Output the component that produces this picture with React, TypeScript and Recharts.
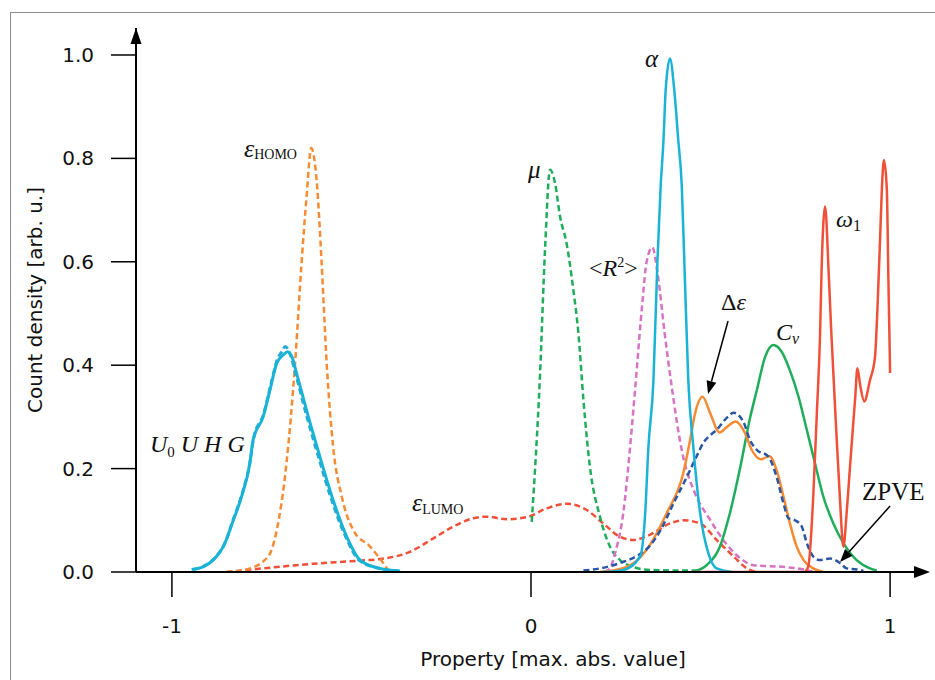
import React from "react";
import {
  ComposedChart,
  Line,
  XAxis,
  YAxis,
  ReferenceDot,
  ReferenceLine,
  Label,
} from "recharts";

type Pt = [number, number];

const X_MIN = -1.1;
const X_MAX = 1.1;
const Y_MAX = 1.0522;

const xTicks = [-1, 0, 1];
const yTicks = [0, 0.2, 0.4, 0.6, 0.8, 1.0];

// U0 U H G (solid + dashed, nearly identical)
const uhgSolid: Pt[] = [
  [-0.945, 0.005], [-0.913, 0.01], [-0.876, 0.03], [-0.857, 0.049], [-0.829, 0.1],
  [-0.806, 0.146], [-0.783, 0.21], [-0.774, 0.255], [-0.746, 0.3], [-0.727, 0.352],
  [-0.708, 0.404], [-0.69, 0.42], [-0.678, 0.426], [-0.665, 0.415], [-0.655, 0.39],
  [-0.62, 0.3], [-0.588, 0.223], [-0.551, 0.139], [-0.513, 0.068], [-0.476, 0.023],
  [-0.421, 0.007], [-0.365, 0.002],
];
const uhgDashed: Pt[] = [
  [-0.94, 0.005], [-0.91, 0.012], [-0.874, 0.032], [-0.855, 0.052], [-0.828, 0.104],
  [-0.805, 0.15], [-0.782, 0.215], [-0.772, 0.26], [-0.745, 0.305], [-0.726, 0.358],
  [-0.707, 0.41], [-0.692, 0.428], [-0.685, 0.436], [-0.67, 0.42], [-0.658, 0.39],
  [-0.624, 0.3], [-0.592, 0.223], [-0.555, 0.139], [-0.516, 0.068], [-0.479, 0.023],
  [-0.424, 0.007], [-0.37, 0.002],
];
const homo: Pt[] = [
  [-0.848, 0], [-0.792, 0.005], [-0.732, 0.03], [-0.708, 0.081], [-0.681, 0.21],
  [-0.657, 0.404], [-0.639, 0.597], [-0.625, 0.726], [-0.612, 0.82], [-0.597, 0.758],
  [-0.583, 0.597], [-0.569, 0.404], [-0.551, 0.242], [-0.527, 0.146], [-0.495, 0.081],
  [-0.448, 0.049], [-0.421, 0.026], [-0.397, 0.003],
];
const lumo: Pt[] = [
  [-0.848, 0], [-0.746, 0.007], [-0.606, 0.016], [-0.476, 0.022], [-0.421, 0.025],
  [-0.337, 0.039], [-0.272, 0.065], [-0.216, 0.088], [-0.161, 0.104], [-0.123, 0.107],
  [-0.068, 0.102], [-0.012, 0.106], [0.044, 0.123], [0.099, 0.132], [0.155, 0.12],
  [0.201, 0.094], [0.248, 0.068], [0.285, 0.062], [0.331, 0.072], [0.387, 0.094],
  [0.424, 0.1], [0.471, 0.094], [0.517, 0.062], [0.564, 0.03], [0.601, 0.007], [0.629, 0],
];
const mu: Pt[] = [
  [0.002, 0.097], [0.025, 0.38], [0.039, 0.623], [0.053, 0.778], [0.067, 0.752],
  [0.081, 0.687], [0.099, 0.636], [0.118, 0.545], [0.132, 0.462], [0.146, 0.333],
  [0.164, 0.204], [0.192, 0.107], [0.22, 0.049], [0.248, 0.023], [0.284, 0.01],
  [0.33, 0.004], [0.4, 0.003], [0.47, 0.003],
];
const r2: Pt[] = [
  [0.205, 0], [0.22, 0.007], [0.234, 0.036], [0.257, 0.114], [0.276, 0.242],
  [0.292, 0.371], [0.31, 0.52], [0.322, 0.6], [0.338, 0.628], [0.352, 0.58],
  [0.372, 0.463], [0.391, 0.363], [0.42, 0.235], [0.458, 0.15], [0.495, 0.105],
  [0.543, 0.055], [0.58, 0.028], [0.62, 0.013], [0.7, 0.01], [0.76, 0.005], [0.79, 0],
];
const alpha: Pt[] = [
  [0.2, 0], [0.257, 0.004], [0.304, 0.03], [0.318, 0.114], [0.327, 0.242],
  [0.341, 0.371], [0.352, 0.6], [0.361, 0.745], [0.369, 0.836], [0.375, 0.932],
  [0.387, 0.993], [0.399, 0.932], [0.41, 0.836], [0.42, 0.745], [0.427, 0.6],
  [0.438, 0.371], [0.452, 0.242], [0.471, 0.114], [0.494, 0.036], [0.517, 0.007], [0.56, 0],
];
const deltaEps: Pt[] = [
  [0.192, 0], [0.267, 0.01], [0.322, 0.043], [0.378, 0.114], [0.424, 0.191],
  [0.443, 0.255], [0.457, 0.307], [0.478, 0.339], [0.499, 0.307], [0.525, 0.27],
  [0.548, 0.282], [0.57, 0.291], [0.595, 0.27], [0.615, 0.236], [0.64, 0.218],
  [0.664, 0.224], [0.684, 0.197], [0.703, 0.146], [0.721, 0.094], [0.74, 0.049],
  [0.759, 0.023], [0.786, 0.007], [0.814, 0],
];
const zpve: Pt[] = [
  [0.146, 0.003], [0.2, 0.008], [0.25, 0.018], [0.3, 0.033], [0.33, 0.05],
  [0.36, 0.08], [0.397, 0.133], [0.434, 0.184], [0.46, 0.222], [0.48, 0.25],
  [0.5, 0.265], [0.517, 0.275], [0.545, 0.298], [0.564, 0.308], [0.591, 0.291],
  [0.61, 0.255], [0.629, 0.236], [0.66, 0.224], [0.684, 0.184], [0.703, 0.133],
  [0.717, 0.104], [0.735, 0.1], [0.754, 0.088], [0.768, 0.056], [0.786, 0.03],
  [0.805, 0.023], [0.833, 0.026], [0.861, 0.017], [0.879, 0.007], [0.907, 0.005], [0.926, 0.002],
];
const cv: Pt[] = [
  [0.452, 0], [0.489, 0.013], [0.526, 0.049], [0.554, 0.114], [0.582, 0.2],
  [0.61, 0.298], [0.629, 0.352], [0.652, 0.416], [0.675, 0.439], [0.698, 0.426],
  [0.721, 0.39], [0.745, 0.339], [0.768, 0.275], [0.791, 0.21], [0.814, 0.146],
  [0.842, 0.094], [0.87, 0.056], [0.907, 0.023], [0.944, 0.007], [0.963, 0.003],
];
const omega: Pt[] = [
  [0.45, 0], [0.76, 0], [0.772, 0.01], [0.786, 0.146], [0.796, 0.307], [0.805, 0.46],
  [0.809, 0.578], [0.819, 0.707], [0.829, 0.578], [0.836, 0.468], [0.85, 0.275],
  [0.86, 0.146], [0.87, 0.049], [0.879, 0.114], [0.889, 0.21], [0.903, 0.339],
  [0.909, 0.394], [0.917, 0.36], [0.928, 0.33], [0.944, 0.371], [0.958, 0.416],
  [0.965, 0.513], [0.972, 0.642], [0.977, 0.739], [0.983, 0.797], [0.991, 0.739],
  [0.995, 0.578], [1.0, 0.385],
];

const CYAN = "#19b3d7";
const ORANGE = "#f68b33";
const RED = "#ef5037";
const GREEN = "#1fad5b";
const MAGENTA = "#d673c3";
const BLUE = "#2a56a6";

const series = [
  { key: "lumo", pts: lumo, color: RED, dash: true, w: 2.5 },
  { key: "homo", pts: homo, color: ORANGE, dash: true, w: 2.5 },
  { key: "uhgDashed", pts: uhgDashed, color: "#2aa9d2", dash: true, w: 3 },
  { key: "uhgSolid", pts: uhgSolid, color: CYAN, dash: false, w: 3 },
  { key: "mu", pts: mu, color: GREEN, dash: true, w: 2.5 },
  { key: "r2", pts: r2, color: MAGENTA, dash: true, w: 2.5 },
  { key: "cv", pts: cv, color: GREEN, dash: false, w: 2.5 },
  { key: "deltaEps", pts: deltaEps, color: ORANGE, dash: false, w: 2.5 },
  { key: "zpve", pts: zpve, color: BLUE, dash: true, w: 2.5 },
  { key: "alpha", pts: alpha, color: CYAN, dash: false, w: 2.5 },
  { key: "omega", pts: omega, color: RED, dash: false, w: 2.5 },
];

const SERIF = "'Liberation Serif', 'Times New Roman', serif";
const SANS = "'DejaVu Sans', sans-serif";

// annotation anchor points (data coords, text starts here on its baseline)
const labelPos: Record<string, Pt> = {
  homo: [-0.7994, 0.8027],
  mu: [-0.0084, 0.762],
  alpha: [0.3175, 0.977],
  r2: [0.1616, 0.5725],
  deltaEps: [0.529, 0.5068],
  cv: [0.6825, 0.4487],
  omega: [0.8496, 0.6673],
  zpve: [0.922, 0.139],
  uhg: [-1.0613, 0.2321],
  lumo: [-0.3315, 0.118],
};

const arrowDelta: [Pt, Pt] = [[0.5487, 0.4855], [0.493, 0.3443]];
const arrowZpve: [Pt, Pt] = [[1.0, 0.1277], [0.8607, 0.0193]];

const labelContent: Record<string, React.ReactNode> = {
  homo: (
    <>
      <tspan fontStyle="italic" fontSize={26}>ε</tspan>
      <tspan fontSize={14} dy={2}>HOMO</tspan>
    </>
  ),
  mu: <tspan fontStyle="italic" fontSize={25}>μ</tspan>,
  alpha: <tspan fontStyle="italic" fontSize={25}>α</tspan>,
  r2: (
    <>
      <tspan>&lt;</tspan>
      <tspan fontStyle="italic">R</tspan>
      <tspan fontSize={14} dy={-9}>2</tspan>
      <tspan dy={9}>&gt;</tspan>
    </>
  ),
  deltaEps: (
    <>
      <tspan>Δ</tspan>
      <tspan fontStyle="italic">ε</tspan>
    </>
  ),
  cv: (
    <>
      <tspan fontStyle="italic">C</tspan>
      <tspan fontStyle="italic" fontSize={16} dy={4}>v</tspan>
    </>
  ),
  omega: (
    <>
      <tspan fontStyle="italic">ω</tspan>
      <tspan fontSize={16} dy={4}>1</tspan>
    </>
  ),
  zpve: <tspan fontSize={25}>ZPVE</tspan>,
  uhg: (
    <>
      <tspan fontStyle="italic">U</tspan>
      <tspan fontSize={15} dy={5}>0</tspan>
      <tspan fontStyle="italic" dy={-5} xmlSpace="preserve"> U H G</tspan>
    </>
  ),
  lumo: (
    <>
      <tspan fontStyle="italic" fontSize={26}>ε</tspan>
      <tspan fontSize={14} dy={3}>LUMO</tspan>
    </>
  ),
};

function ArrowShape(props: any) {
  const { x1, y1, x2, y2 } = props;
  const dx = x2 - x1;
  const dy = y2 - y1;
  const len = Math.sqrt(dx * dx + dy * dy) || 1;
  const ux = dx / len;
  const uy = dy / len;
  const hl = 13;
  const hw = 5;
  const bx = x2 - ux * hl;
  const by = y2 - uy * hl;
  return (
    <g>
      <line x1={x1} y1={y1} x2={bx} y2={by} stroke="#000" strokeWidth={1.5} />
      <polygon
        points={`${x2},${y2} ${bx - uy * hw},${by + ux * hw} ${bx + uy * hw},${by - ux * hw}`}
        fill="#000"
      />
    </g>
  );
}

export default function App() {
  return (
    <div style={{ position: "absolute", left: 0, top: 0, width: 935, height: 680, background: "#fff" }}>
      <div
        style={{
          position: "absolute",
          left: 10,
          top: 12,
          width: 940,
          height: 690,
          borderLeft: "1px solid #8c8c8c",
          borderTop: "1px solid #8c8c8c",
        }}
      />
      <ComposedChart
        width={935}
        height={680}
        margin={{ top: 28, right: 9, bottom: 48, left: 36 }}
        style={{ fontFamily: SANS }}
      >
        <XAxis
          type="number"
          dataKey="x"
          domain={[X_MIN, X_MAX]}
          ticks={xTicks}
          interval={0}
          allowDataOverflow
          height={60}
          tickSize={25}
          tickMargin={22}
          tickFormatter={(v: number) => String(v)}
          axisLine={{ stroke: "#000", strokeWidth: 2 }}
          tickLine={{ stroke: "#000", strokeWidth: 1.5 }}
          tick={{ fill: "#111", fontSize: 20, fontFamily: SANS }}
        >
          <Label
            content={() => (
              <text x={553} y={666} textAnchor="middle" fontSize={20} fontFamily={SANS} fill="#111">
                Property [max. abs. value]
              </text>
            )}
          />
        </XAxis>
        <YAxis
          type="number"
          domain={[0, Y_MAX]}
          ticks={yTicks}
          interval={0}
          allowDataOverflow
          width={100}
          tickSize={25}
          tickMargin={17}
          tickFormatter={(v: number) => v.toFixed(1)}
          axisLine={{ stroke: "#000", strokeWidth: 2 }}
          tickLine={{ stroke: "#000", strokeWidth: 1.5 }}
          tick={{ fill: "#111", fontSize: 20, fontFamily: SANS }}
        >
          <Label
            content={() => (
              <text
                x={35}
                y={300}
                transform="rotate(-90, 35, 300)"
                textAnchor="middle"
                dominantBaseline="central"
                fontSize={20}
                fontFamily={SANS}
                fill="#111"
              >
                Count density [arb. u.]
              </text>
            )}
          />
        </YAxis>

        {series.map((s) => (
          <Line
            key={s.key}
            data={s.pts.map(([x, y]) => ({ x, y }))}
            dataKey="y"
            type="monotone"
            stroke={s.color}
            strokeWidth={s.w}
            strokeDasharray={s.dash ? "6 3.5" : undefined}
            dot={false}
            activeDot={false}
            isAnimationActive={false}
          />
        ))}

        {/* axis arrowheads */}
        <ReferenceDot
          x={X_MAX}
          y={0}
          r={0}
          shape={(p: any) => (
            <polygon points={`${p.cx + 4},${p.cy} ${p.cx - 12},${p.cy - 6} ${p.cx - 12},${p.cy + 6}`} fill="#000" />
          )}
        />
        <ReferenceDot
          x={X_MIN}
          y={Y_MAX}
          r={0}
          shape={(p: any) => (
            <polygon points={`${p.cx},${p.cy} ${p.cx - 5.5},${p.cy + 16} ${p.cx + 5.5},${p.cy + 16}`} fill="#000" />
          )}
        />

        {Object.keys(labelPos).map((k) => (
          <ReferenceDot
            key={k}
            x={labelPos[k][0]}
            y={labelPos[k][1]}
            r={0}
            shape={(p: any) => (
              <text x={p.cx} y={p.cy} fontFamily={SERIF} fontSize={24} fill="#111">
                {labelContent[k]}
              </text>
            )}
          />
        ))}

        <ReferenceLine
          segment={[{ x: arrowDelta[0][0], y: arrowDelta[0][1] }, { x: arrowDelta[1][0], y: arrowDelta[1][1] }]}
          stroke="#000"
          shape={ArrowShape}
        />
        <ReferenceLine
          segment={[{ x: arrowZpve[0][0], y: arrowZpve[0][1] }, { x: arrowZpve[1][0], y: arrowZpve[1][1] }]}
          stroke="#000"
          shape={ArrowShape}
        />
      </ComposedChart>
    </div>
  );
}
